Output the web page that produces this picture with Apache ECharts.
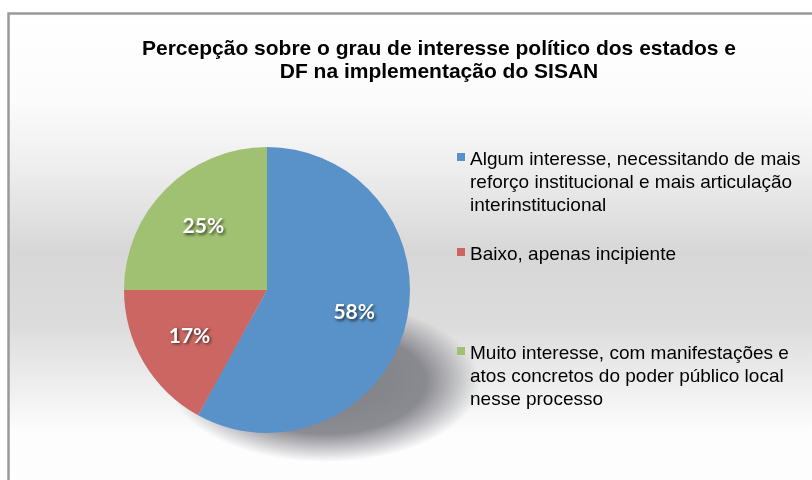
<!DOCTYPE html>
<html>
<head>
<meta charset="utf-8">
<script src="https://cdn.jsdelivr.net/npm/echarts@6/dist/echarts.min.js"></script>
<style>html,body{margin:0;padding:0;background:#fff}#c{width:812px;height:480px}</style>
</head>
<body>
<div id="c"></div>
<script>
const titleLines = ['Percepção sobre o grau de interesse político dos estados e', 'DF na implementação do SISAN'];
const categories = [
  'Algum interesse, necessitando de mais reforço institucional e mais articulação interinstitucional',
  'Baixo, apenas incipiente',
  'Muito interesse, com manifestações e atos concretos do poder público local nesse processo'
];
const legendLines = [
  ['Algum interesse, necessitando de mais', 'reforço institucional e mais articulação', 'interinstitucional'],
  ['Baixo, apenas incipiente'],
  ['Muito interesse, com manifestações e', 'atos concretos do poder público local', 'nesse processo']
];
const values = [58, 17, 25];
const colors = ['#5892C8', '#CB6662', '#A0C171'];

const chart = echarts.init(document.getElementById('c'), null, {renderer: 'canvas'});

const LH = 23;
const legendTops = [143, 238, 337];
function iconFor(n) {
  const H = 2 * (6.5 + LH * (n - 1) / 2);
  return {H: H, path: 'path://M0,0L8,0L8,8L0,8Z M0,' + H + 'L0,' + H};
}

const legends = categories.map(function (name, i) {
  const ic = iconFor(legendLines[i].length);
  return {
    orient: 'vertical',
    left: 452,
    top: legendTops[i],
    data: [{name: name, icon: ic.path}],
    itemWidth: 8,
    itemHeight: ic.H,
    itemGap: 0,
    selectedMode: false,
    itemStyle: {borderWidth: 0},
    formatter: function () { return legendLines[i].join('\n'); },
    textStyle: {fontFamily: 'Liberation Sans', fontSize: 19, lineHeight: LH, color: '#000'}
  };
});

const pieData = categories.map(function (name, i) {
  return {name: name, value: values[i], itemStyle: {color: colors[i]}};
});

chart.setOption({
  animation: false,
  backgroundColor: '#fff',
  title: {
    text: titleLines.join('\n'),
    left: 439,
    top: 38,
    textAlign: 'center',
    padding: 0,
    textStyle: {fontFamily: 'Liberation Sans', fontWeight: 'bold', fontSize: 21, lineHeight: 23, color: '#000'}
  },
  graphic: [
    {
      type: 'rect', z: -10, silent: true,
      shape: {x: 8, y: 13, width: 900, height: 600},
      style: {
        fill: {
          type: 'linear', x: 0, y: 0, x2: 0, y2: 1, global: false,
          colorStops: [
            {offset: 0, color: '#ffffff'},
            {offset: 0.15, color: '#fbfbfb'},
            {offset: 0.25, color: '#eeefee'},
            {offset: 0.4, color: '#d7d7d7'},
            {offset: 0.52, color: '#dcdcdc'},
            {offset: 0.63, color: '#eff0ef'},
            {offset: 0.7, color: '#fdfdfd'},
            {offset: 1, color: '#ffffff'}
          ]
        }
      }
    },
    {
      type: 'rect', z: -9, silent: true,
      shape: {x: 8.5, y: 13.5, width: 900, height: 600},
      style: {fill: 'none', stroke: '#999', lineWidth: 2.5}
    },
    {
      type: 'circle', z: -8, silent: true,
      x: 325, y: 382, scaleX: 1.55, scaleY: 0.8,
      shape: {cx: 0, cy: 0, r: 100},
      style: {
        fill: {
          type: 'radial', x: 0.5, y: 0.5, r: 0.5,
          colorStops: [
            {offset: 0, color: 'rgba(120,120,128,0.95)'},
            {offset: 0.65, color: 'rgba(120,120,128,0.85)'},
            {offset: 1, color: 'rgba(120,120,128,0)'}
          ]
        }
      }
    }
  ],
  legend: legends,
  series: [
    {
      type: 'pie',
      center: [267, 290],
      radius: 143,
      startAngle: 90,
      clockwise: true,
      silent: true,
      label: {show: false},
      labelLine: {show: false},
      itemStyle: {borderWidth: 0},
      emphasis: {disabled: true},
      data: pieData
    },
    {
      type: 'pie',
      center: [267, 290],
      radius: 174,
      startAngle: 90,
      clockwise: true,
      silent: true,
      z: 3,
      itemStyle: {color: 'rgba(0,0,0,0)', borderWidth: 0},
      emphasis: {disabled: true},
      labelLine: {show: false},
      label: {
        show: true,
        position: 'inside',
        formatter: '{c}%',
        fontFamily: 'Lato',
        fontWeight: 'bold',
        fontSize: 21,
        color: '#fff',
        textShadowColor: 'rgba(0,0,0,0.65)',
        textShadowBlur: 3,
        textShadowOffsetX: 1.5,
        textShadowOffsetY: 1.5
      },
      data: categories.map(function (name, i) { return {name: name, value: values[i]}; })
    }
  ]
});
</script>
</body>
</html>
